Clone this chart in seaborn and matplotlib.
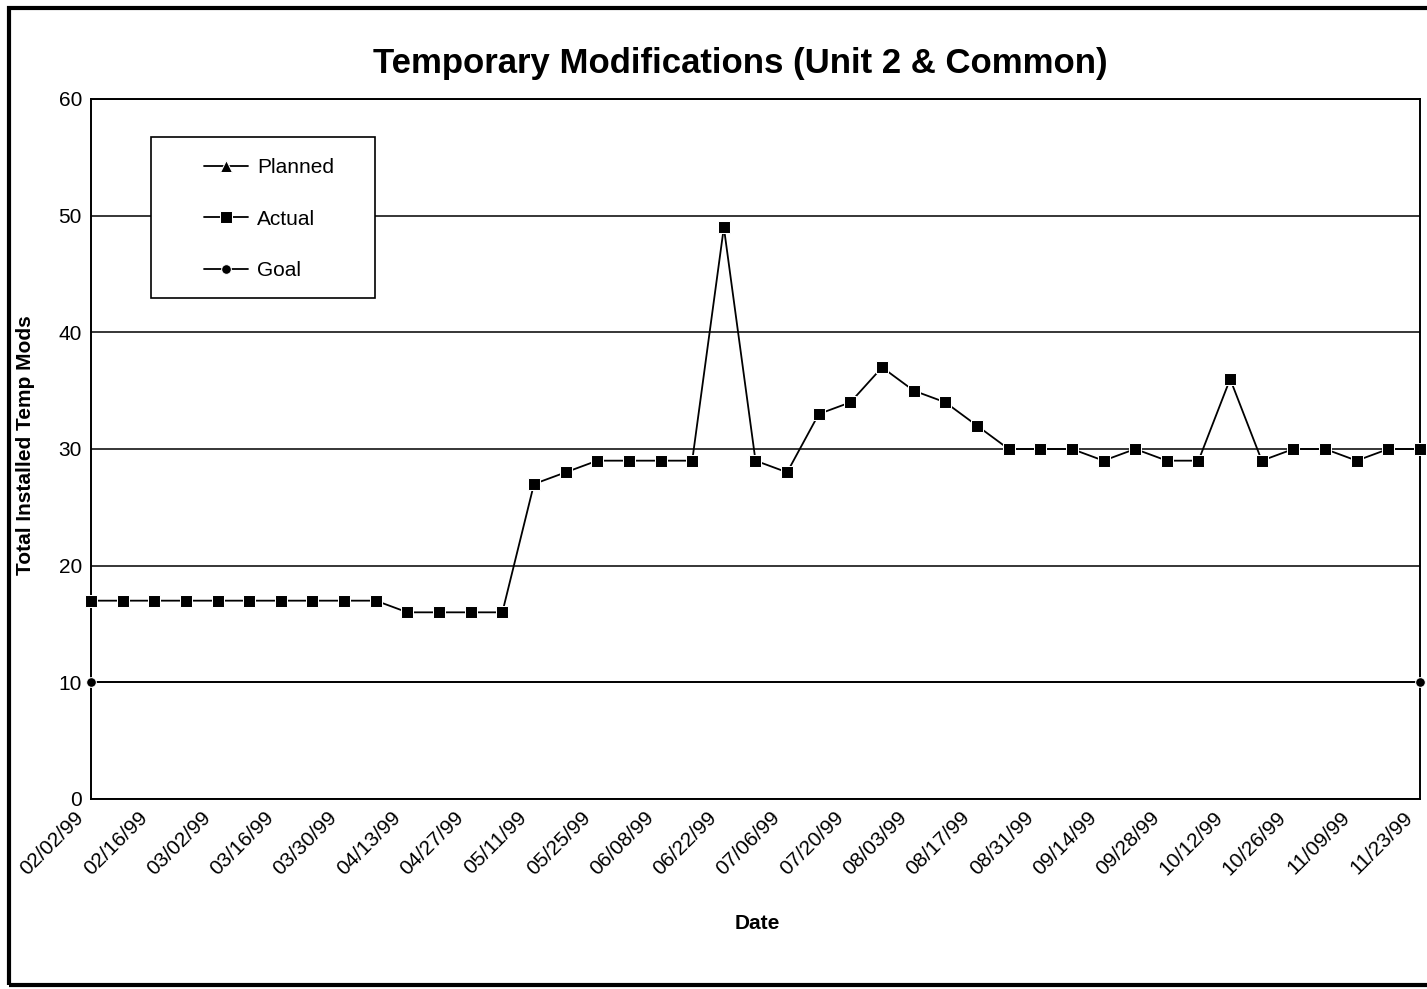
import numpy as np
import pandas as pd
import matplotlib
matplotlib.use("Agg")
import matplotlib.pyplot as plt
import matplotlib.transforms as mtransforms
import seaborn as sns
from matplotlib.patches import Rectangle

# --- data (weekly, 02/02/99 .. 11/23/99) ---
dates = pd.date_range("1999-02-02", periods=43, freq="7D")
actual = [17, 17, 17, 17, 17, 17, 17, 17, 17, 17,
          16, 16, 16, 16,
          27, 28, 29, 29, 29, 29, 49, 29, 28, 33, 34, 37, 35, 34, 32,
          30, 30, 30, 29, 30, 29, 29, 36, 29, 30, 30, 29, 30, 30]
planned = [np.nan] * 43          # series is in the legend but has no points
goal_idx = [0, 42]
goal = [10, 10]
tick_labels = [d.strftime("%m/%d/%y") for d in dates]

sns.set_style("white")
plt.rcParams["font.family"] = ["Liberation Sans", "DejaVu Sans"]
plt.rcParams.update({"text.color": "black", "axes.labelcolor": "black",
                     "xtick.color": "black", "ytick.color": "black"})

fig = plt.figure(figsize=(14.27, 9.89), dpi=100)
ax = fig.add_axes([91 / 1427, 1 - 799 / 989, (1420 - 91) / 1427, 700 / 989])

x = np.arange(len(dates))
sns.lineplot(x=x, y=planned, ax=ax, color="black", marker="^", markersize=8,
             linewidth=1.3, label="Planned", clip_on=False)
sns.lineplot(x=x, y=actual, ax=ax, color="black", marker="s", markersize=8,
             linewidth=1.3, label="Actual", clip_on=False, zorder=4)
sns.lineplot(x=goal_idx, y=goal, ax=ax, color="black", marker="o", markersize=7,
             linewidth=1.3, label="Goal", clip_on=False, zorder=4)

ax.set_xlim(0, 42)
ax.set_ylim(0, 60)
ax.set_yticks(range(0, 61, 10))
ax.set_xticks(x)
ax.set_xticklabels([lab if i % 2 == 0 else "" for i, lab in enumerate(tick_labels)],
                   rotation=45, ha="right", va="center", rotation_mode="anchor")
ax.tick_params(axis="both", direction="out", length=4.5, width=1.2, labelsize=15)
ax.tick_params(axis="y", pad=2)
ax.tick_params(axis="x", pad=7)
shift = mtransforms.ScaledTranslation(-0.10, 0, fig.dpi_scale_trans)
for lab in ax.get_xticklabels():
    lab.set_transform(lab.get_transform() + shift)
ax.yaxis.grid(True, color="black", linewidth=1.1)
ax.set_axisbelow(True)
for s in ax.spines.values():
    s.set_color("black")
    s.set_linewidth(1.4)

ax.set_ylabel("Total Installed Temp Mods", fontsize=15, fontweight="bold")
ax.yaxis.set_label_coords(-0.042, 0.506)
ax.set_xlabel("Date", fontsize=15, fontweight="bold")
ax.xaxis.set_label_coords(0.501, -0.164)

# legend: white box with manual frame, entries inside
ax.add_patch(Rectangle((0.0451, 0.7157), 0.1686, 0.23, transform=ax.transAxes,
                       facecolor="white", edgecolor="black", linewidth=1.2, zorder=5))
leg = ax.legend(loc="upper left", bbox_to_anchor=(0.085, 0.916), frameon=False,
                fontsize=15, labelspacing=1.57, handlelength=2.1, handletextpad=0.45,
                borderpad=0, borderaxespad=0)
leg.set_zorder(6)

fig.text(0.5186, 0.936, "Temporary Modifications (Unit 2 & Common)",
         ha="center", va="center", fontsize=25, fontweight="bold")

fig.add_artist(Rectangle((9 / 1427, 1 - 985 / 989), 1430 / 1427, 977 / 989,
                         transform=fig.transFigure, fill=False,
                         edgecolor="black", linewidth=3))

fig.savefig("out.png", dpi=100)
